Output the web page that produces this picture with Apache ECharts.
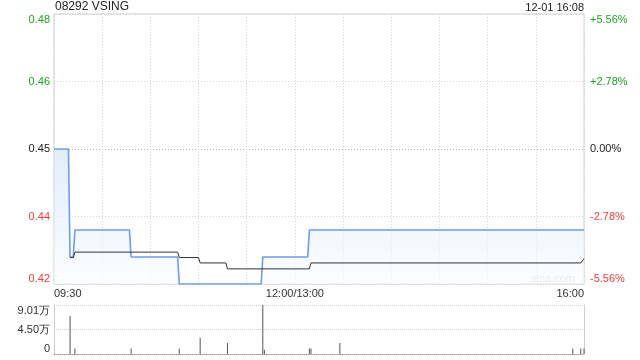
<!DOCTYPE html>
<html>
<head>
<meta charset="utf-8">
<script src="https://cdn.jsdelivr.net/npm/echarts@6/dist/echarts.min.js"></script>
<style>
html,body{margin:0;padding:0;background:#fff;}
#chart{width:640px;height:360px;}
</style>
</head>
<body>
<div id="chart"></div>
<script>
// ---- data (minutes after 09:30, lunch break removed) ----
const titleText = '08292 VSING';
const dateText = '12-01 16:08';
const priceTimes  = [0, 9, 10, 12, 13, 47, 48, 77, 78, 129, 130, 158, 159, 330];
const priceValues = [0.45, 0.45, 0.43, 0.43, 0.435, 0.435, 0.43, 0.43, 0.425, 0.425, 0.43, 0.43, 0.435, 0.435];
const avgTimes  = [10, 12, 13, 77, 78, 90, 91, 107, 108, 159, 160, 328, 330];
const avgValues = [0.4299, 0.4299, 0.4309, 0.4309, 0.4299, 0.4299, 0.4289, 0.4289, 0.4278, 0.4278, 0.4289, 0.4289, 0.4297];
const volTimes  = [10, 13, 48, 78, 91, 108, 130, 131, 159, 160, 178, 323, 328, 330];
const volValues = [70000, 10000, 10000, 10000, 30000, 20000, 90100, 8000, 10000, 10000, 20000, 10000, 10000, 10000];
const timeTickMinutes = [0, 150, 330];
const timeTickLabels = ['09:30', '12:00/13:00', '16:00'];
const priceTickLabels = ['0.42', '0.44', '0.45', '0.46', '0.48'];
const pctTickLabels = ['-5.56%', '-2.78%', '0.00%', '+2.78%', '+5.56%'];
const volTickLabels = ['0', '4.50万', '9.01万'];
const priceMin = 0.425, priceMax = 0.475, priceStep = 0.0125;
const volMax = 90100;

const GREEN = '#22a322', RED = '#f23c3c', DARK = '#222';
const tickColors = [RED, RED, DARK, GREEN, GREEN];
const FONT = 'Liberation Sans, Arial, sans-serif';
const rich = {};
tickColors.forEach((c, i) => { rich['c' + i] = { color: c, fontSize: 11, fontFamily: FONT }; });

const pricePairs = priceTimes.map((t, i) => [t, priceValues[i]]);
const avgPairs = avgTimes.map((t, i) => [t, avgValues[i]]);
const volPairs = volTimes.map((t, i) => [t, volValues[i]]);

function idxOf(v) { return Math.round((v - priceMin) / priceStep); }

const chart = echarts.init(document.getElementById('chart'), null, { renderer: 'canvas' });
chart.setOption({
  animation: false,
  backgroundColor: '#fff',
  textStyle: { fontFamily: FONT },
  grid: [
    { left: 54, right: 56, top: 14, height: 270, show: true, borderColor: '#cfcfcf', borderWidth: 1, backgroundColor: 'transparent' },
    { left: 54, right: 56, top: 305, height: 49 }
  ],
  xAxis: [
    {
      type: 'value', gridIndex: 0, min: 0, max: 330, interval: 30,
      axisLine: { show: false }, axisTick: { show: false },
      splitLine: { show: true, lineStyle: { color: '#d4d4d4', type: [1, 2], width: 1 } },
      axisLabel: {
        fontSize: 11, color: '#333', margin: 4, fontFamily: FONT,
        alignMinLabel: 'left', alignMaxLabel: 'right',
        formatter: v => { const k = timeTickMinutes.indexOf(Math.round(v)); return k >= 0 ? timeTickLabels[k] : ''; }
      }
    },
    {
      type: 'value', gridIndex: 1, min: 0, max: 330, interval: 30,
      axisLine: { show: true, lineStyle: { color: '#999', type: [1, 1], width: 1 } },
      axisTick: { show: false }, axisLabel: { show: false }, splitLine: { show: false }
    }
  ],
  yAxis: [
    {
      type: 'value', gridIndex: 0, min: priceMin, max: priceMax, interval: priceStep,
      axisLine: { show: false }, axisTick: { show: false },
      splitLine: { show: true, lineStyle: { color: ['#d4d4d4', '#d4d4d4', '#b0b0b0', '#d4d4d4', '#d4d4d4'], type: [1, 2], width: 1 } },
      axisLabel: {
        margin: 4, verticalAlignMinLabel: 'bottom', verticalAlignMaxLabel: 'top',
        formatter: v => { const i = idxOf(v); return '{c' + i + '|' + priceTickLabels[i] + '}'; }, rich: rich
      }
    },
    {
      type: 'value', gridIndex: 0, min: priceMin, max: priceMax, interval: priceStep, position: 'right',
      axisLine: { show: false }, axisTick: { show: false }, splitLine: { show: false },
      axisLabel: {
        margin: 6, verticalAlignMinLabel: 'bottom', verticalAlignMaxLabel: 'top',
        formatter: v => { const i = idxOf(v); return '{c' + i + '|' + pctTickLabels[i] + '}'; }, rich: rich
      }
    },
    {
      type: 'value', gridIndex: 1, min: 0, max: volMax, interval: volMax / 2,
      axisLine: { show: true, lineStyle: { color: '#cfcfcf' } }, axisTick: { show: false },
      splitLine: { show: true, lineStyle: { color: '#cfcfcf', type: [1, 1], width: 1 } },
      axisLabel: {
        fontSize: 11, color: '#333', margin: 4, fontFamily: FONT,
        verticalAlignMinLabel: 'bottom', verticalAlignMaxLabel: 'top',
        formatter: v => volTickLabels[Math.round(v / (volMax / 2))]
      }
    },
    {
      type: 'value', gridIndex: 1, min: 0, max: volMax, interval: volMax / 2, position: 'right',
      axisLine: { show: true, lineStyle: { color: '#cfcfcf' } }, axisTick: { show: false },
      splitLine: { show: false }, axisLabel: { show: false }
    }
  ],
  series: [
    {
      name: 'price', type: 'line', xAxisIndex: 0, yAxisIndex: 0, data: pricePairs,
      showSymbol: false, symbol: 'none', lineStyle: { color: '#6d9ded', width: 1.6 },
      areaStyle: {
        origin: 'start',
        color: new echarts.graphic.LinearGradient(0, 0, 0, 1, [
          { offset: 0, color: 'rgba(212,227,250,0.95)' },
          { offset: 1, color: 'rgba(250,252,255,0.9)' }
        ])
      },
      z: 3
    },
    {
      name: 'avg', type: 'line', xAxisIndex: 0, yAxisIndex: 0, data: avgPairs,
      showSymbol: false, symbol: 'none', lineStyle: { color: '#333', width: 1 }, z: 5
    },
    {
      name: 'vol', type: 'bar', xAxisIndex: 1, yAxisIndex: 2, data: volPairs,
      barWidth: 1, itemStyle: { color: '#555' }, z: 3
    }
  ],
  graphic: [
    { type: 'text', left: 55, top: 1, style: { text: titleText, font: '12px ' + FONT, fill: '#222' } },
    { type: 'text', right: 56, top: 2, style: { text: dateText, font: '11px ' + FONT, fill: '#222' } },
    { type: 'text', left: 531, top: 273, style: { text: 'sina.com', font: '11px ' + FONT, fill: '#cccccc' } }
  ]
});
</script>
</body>
</html>
